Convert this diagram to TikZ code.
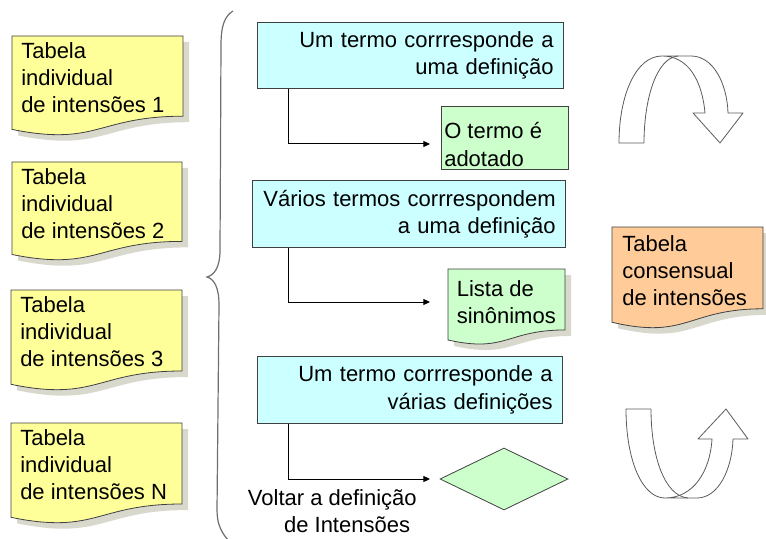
\documentclass[tikz,border=0pt]{standalone}
\usepackage{fontspec}
\setmainfont{Liberation Sans}
\usetikzlibrary{shapes.geometric,arrows.meta}
\definecolor{docyellow}{HTML}{FFFF99}
\definecolor{boxcyan}{HTML}{CCFFFF}
\definecolor{boxgreen}{HTML}{CCFFCC}
\definecolor{docorange}{HTML}{FFCC99}
\definecolor{edgegray}{HTML}{404040}
\definecolor{shadowgray}{HTML}{D8D8CC}
\definecolor{bracegray}{HTML}{6E6E6E}
\definecolor{arrowgray}{HTML}{5A5A5A}
\newcommand\docshape[5]{%
  \fill[shadowgray] ({#1+6},{#2+6}) -- ({#1+#3+6},{#2+6}) -- ({#1+#3+6},{#2+0.802*#4+6})
    .. controls ({#1+0.5*#3+6},{#2+0.802*#4+6}) and ({#1+0.5*#3+6},{#2+1.107*#4+6}) .. ({#1+6},{#2+0.934*#4+6}) -- cycle;
  \filldraw[boxedge, fill=#5] (#1,#2) -- ({#1+#3},#2) -- ({#1+#3},{#2+0.802*#4})
    .. controls ({#1+0.5*#3},{#2+0.802*#4}) and ({#1+0.5*#3},{#2+1.107*#4}) .. (#1,{#2+0.934*#4}) -- cycle;
}
\begin{document}
\begin{tikzpicture}[x=0.75pt,y=-0.75pt,
  every node/.style={font=\fontsize{16.5}{20.5}\selectfont},
  boxedge/.style={draw=edgegray, line width=0.6pt},
  cyanbox/.style={boxedge, fill=boxcyan, rectangle, inner sep=7pt, align=right},
  greenbox/.style={boxedge, fill=boxgreen, rectangle, inner sep=0pt},
  doctext/.style={inner sep=0pt, align=left, anchor=north west},
  conn/.style={draw=black, line width=0.75pt, -{Triangle[length=5pt,width=4.5pt]}},
  bracestyle/.style={draw=bracegray, line width=0.9pt},
  bendarrow/.style={draw=arrowgray, line width=0.6pt, line join=round},
]
\useasboundingbox (0,0) rectangle (766,538);

% individual tables
\docshape{12}{36}{171}{100}{docyellow}
\node[doctext] (d1) at (21,42) {Tabela\\individual\\de intensões 1};
\docshape{12}{162}{170}{99}{docyellow}
\node[doctext] (d2) at (21,168) {Tabela\\individual\\de intensões 2};
\docshape{11}{290}{171}{101}{docyellow}
\node[doctext] (d3) at (20,296) {Tabela\\individual\\de intensões 3};
\docshape{11}{423}{171}{101}{docyellow}
\node[doctext] (d4) at (20,429) {Tabela\\individual\\de intensões N};

% brace
\draw[bracestyle] (233,11) .. controls (225,16) and (221,25) .. (221,45)
  -- (220,250) .. controls (220,268) and (214,275) .. (207,277)
  .. controls (214,279) and (219,287) .. (219,305)
  -- (217,510) .. controls (217,525) and (222,533) .. (228,540);

% cases
\node[cyanbox, minimum width=229.5pt, minimum height=47.25pt, text width=215.5pt] (c1) at (410,55.5) {Um termo corrresponde a\\uma definição};
\node[greenbox, minimum width=95.25pt, minimum height=47.25pt] (g1) at (504.5,137.5) {};
\node[doctext] (g1t) at (444,122.5) {O termo é\\adotado};
\node[cyanbox, minimum width=234.75pt, minimum height=46.5pt, text width=220.75pt] (c2) at (408.5,214) {Vários termos corrrespondem\\a uma definição};
\docshape{448}{269}{117}{76}{boxgreen}
\node[doctext] (g2) at (456.5,280) {Lista de\\sinônimos};
\node[cyanbox, minimum width=228.75pt, minimum height=48pt, text width=214.75pt] (c3) at (409.5,390) {Um termo corrresponde a\\várias definições};
\node[diamond, boxedge, fill=boxgreen, minimum width=96pt, minimum height=46.5pt, inner sep=0pt] (dm) at (504,479) {};
\node[inner sep=0pt, align=right, anchor=north east] (volt) at (417,489) {Voltar a definição\\de Intensões\hspace*{5pt}};

% connectors
\coordinate (e1) at (430,144);
\coordinate (e2) at (430,302);
\coordinate (e3) at (430,479);
\draw[conn] ([xshift=24pt]c1.south west) |- (e1);
\draw[conn] ([xshift=27.75pt]c2.south west) |- (e2);
\draw[conn] ([xshift=24pt]c3.south west) |- (e3);

% consensual table
\docshape{612}{227}{151}{102}{docorange}
\node[doctext] (cons) at (622,235) {Tabela\\consensual\\de intensões};

% curved arrow (top)
\draw[bendarrow] (644,143) -- (619,143) .. controls (619,95) and (636,56) .. (662,56)
  -- (691,56) .. controls (713,56) and (727,83) .. (728,113)
  -- (743,113) -- (720,143) -- (693,113) -- (705,113)
  .. controls (702,80) and (688,56) .. (662,56);
\draw[bendarrow] (644,143) .. controls (644,100) and (656,58) .. (678,56);

% curved arrow (bottom)
\draw[bendarrow] (651,409) -- (626,409) .. controls (626,460) and (642,498) .. (665,498)
  -- (697,498) .. controls (718,498) and (732,470) .. (733,439)
  -- (748,439) -- (726,409) -- (698,439) -- (712,439)
  .. controls (710,472) and (693,498) .. (665,498);
\draw[bendarrow] (651,409) .. controls (651,455) and (664,496) .. (688,498);
\end{tikzpicture}
\end{document}
